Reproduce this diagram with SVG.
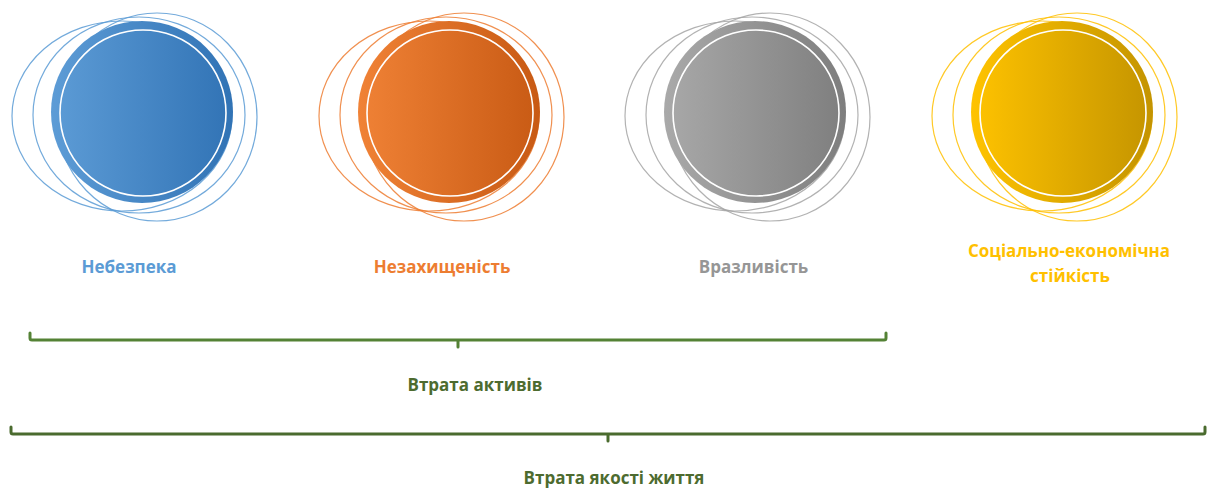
<svg xmlns="http://www.w3.org/2000/svg" width="1208" height="489" viewBox="0 0 1208 489">
<defs>
<linearGradient id="gBlue" x1="0" y1="0" x2="1" y2="0"><stop offset="0" stop-color="#5D9CD6"/><stop offset="1" stop-color="#3173B5"/></linearGradient>
<linearGradient id="gOrange" x1="0" y1="0" x2="1" y2="0"><stop offset="0" stop-color="#F08236"/><stop offset="1" stop-color="#C85A14"/></linearGradient>
<linearGradient id="gGray" x1="0" y1="0" x2="1" y2="0"><stop offset="0" stop-color="#A9A9A9"/><stop offset="1" stop-color="#7E7E7E"/></linearGradient>
<linearGradient id="gYellow" x1="0" y1="0" x2="1" y2="0"><stop offset="0" stop-color="#FFC300"/><stop offset="1" stop-color="#C49400"/></linearGradient>
<style>
.ring{fill:none;stroke-width:1.2;stroke-opacity:0.85}
.inner{fill:none;stroke:#FFFFFF;stroke-width:1.6}
.lbl{font-family:"Open Sans","Liberation Sans",sans-serif;font-weight:bold;font-size:17px;text-anchor:middle}
.brk{fill:none;stroke-width:3;stroke-linecap:round;stroke-linejoin:round}
</style>
</defs>
<g id="node-nebezpeka">
<g class="ring" stroke="#5B9BD5">
<ellipse cx="122" cy="116" rx="110" ry="95"/>
<ellipse cx="139" cy="115" rx="106" ry="98"/>
<ellipse cx="157" cy="117" rx="100" ry="104"/>
</g>
<circle cx="142" cy="112" r="91" fill="url(#gBlue)"/>
<circle class="inner" cx="143" cy="113" r="83"/>
<text class="lbl" x="129" y="273" fill="#5B9BD5">Небезпека</text>
</g>
<g id="node-nezakhyshchenist" transform="translate(307,0)">
<g class="ring" stroke="#ED7D31">
<ellipse cx="122" cy="116" rx="110" ry="95"/>
<ellipse cx="139" cy="115" rx="106" ry="98"/>
<ellipse cx="157" cy="117" rx="100" ry="104"/>
</g>
<circle cx="142" cy="112" r="91" fill="url(#gOrange)"/>
<circle class="inner" cx="143" cy="113" r="83"/>
<text class="lbl" x="135" y="273" fill="#ED7D31">Незахищеність</text>
</g>
<g id="node-vrazlyvist" transform="translate(613,0)">
<g class="ring" stroke="#A5A5A5">
<ellipse cx="122" cy="116" rx="110" ry="95"/>
<ellipse cx="139" cy="115" rx="106" ry="98"/>
<ellipse cx="157" cy="117" rx="100" ry="104"/>
</g>
<circle cx="142" cy="112" r="91" fill="url(#gGray)"/>
<circle class="inner" cx="143" cy="113" r="83"/>
<text class="lbl" x="140.5" y="273" fill="#969696">Вразливість</text>
</g>
<g id="node-stiikist" transform="translate(920,0)">
<g class="ring" stroke="#FFC000">
<ellipse cx="122" cy="116" rx="110" ry="95"/>
<ellipse cx="139" cy="115" rx="106" ry="98"/>
<ellipse cx="157" cy="117" rx="100" ry="104"/>
</g>
<circle cx="142" cy="112" r="91" fill="url(#gYellow)"/>
<circle class="inner" cx="143" cy="113" r="83"/>
<text class="lbl" x="149" y="257" fill="#FFC000">Соціально-економічна</text>
<text class="lbl" x="150" y="282" fill="#FFC000">стійкість</text>
</g>
<g id="connectors">
<path class="brk" stroke="#548235" d="M30,333 V338 Q30,340 32,340 H884 Q886,340 886,338 V333 M458,340 V347"/>
<path class="brk" stroke="#4A6B2E" d="M11,427 V432 Q11,434 13,434 H1203 Q1205,434 1205,432 V427 M608,434 V441"/>
</g>
<g id="bracket-labels">
<text class="lbl" x="475" y="391" fill="#4D6B2F">Втрата активів</text>
<text class="lbl" x="614" y="484" fill="#4D6B2F">Втрата якості життя</text>
</g>
</svg>
